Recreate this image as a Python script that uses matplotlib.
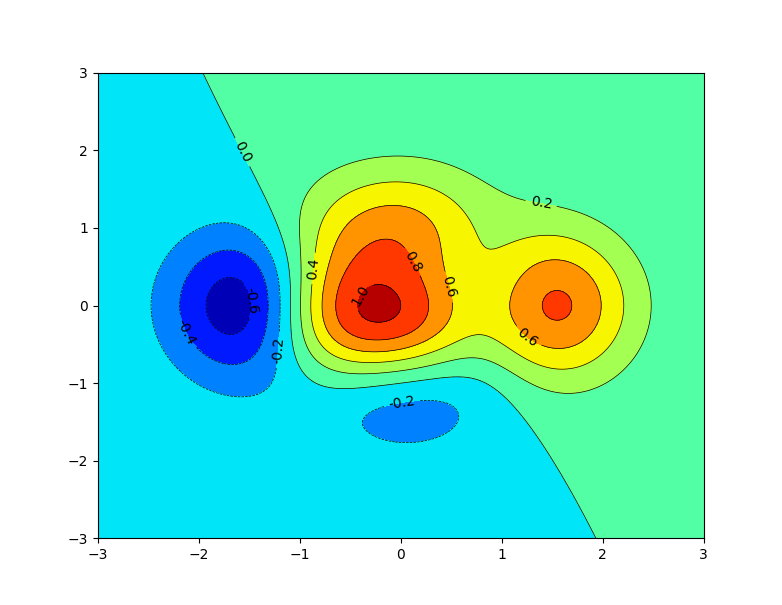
import numpy as np
import matplotlib
matplotlib.use("Agg")
import matplotlib.pyplot as plt

# grid extent and resolution
x_range = [-3, 3]
y_range = [-3, 3]
n_points = 256
n_levels = 8

# positions (data coords) where contour labels sit in the reference
label_x = [-1.475, -2.12, -1.23, -1.56, 1.39, -0.88, 0.475, 1.25, 0.11, -0.41, 0.01]
label_y = [0.07, -0.34, -0.57, 1.98, 1.32, 0.48, 0.24, -0.42, 0.56, 0.14, -1.23]


def f(x, y):
    return (1 - x / 2 + x ** 5 + y ** 3) * np.exp(-x ** 2 - y ** 2)


x = np.linspace(x_range[0], x_range[1], n_points)
y = np.linspace(y_range[0], y_range[1], n_points)
X, Y = np.meshgrid(x, y)
Z = f(X, Y)

fig = plt.figure(figsize=(7.82, 6.05), dpi=100)
ax = fig.add_subplot(111)
ax.contourf(X, Y, Z, n_levels, cmap='jet')
C = ax.contour(X, Y, Z, n_levels, colors='black', linewidths=0.5)
ax.clabel(C, inline=1, fontsize=10, fmt='%1.1f',
          manual=list(zip(label_x, label_y)))
fig.savefig("out.png", dpi=100)
